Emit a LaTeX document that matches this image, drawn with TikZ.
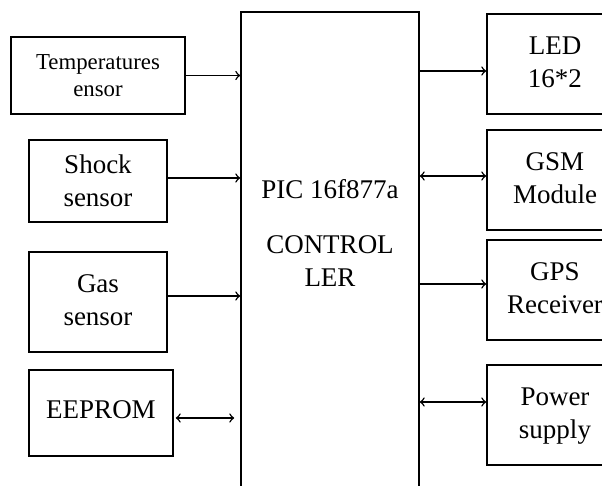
\documentclass[tikz,border=0pt]{standalone}
\usepackage{fontspec}
\setmainfont{Liberation Serif}

% two centred lines, lifted a little above the box centre
\newcommand{\liftlines}[3]{\raisebox{#1}{\begin{tabular}{@{}c@{}}#2\\#3\end{tabular}}}

\begin{document}
\begin{tikzpicture}[
        x=0.5pt, y=-0.5pt,
        >=to,
        line width=0.75pt,
        every node/.style={font=\fontsize{13.5}{16.5}\selectfont},
        blockbox/.style={
            draw,
            align=center,
            inner sep=0pt
        },
        sensorbox/.style={blockbox, minimum width=69pt},
        outbox/.style={blockbox, minimum width=68pt, minimum height=50pt}
    ]
        \useasboundingbox (0,0) rectangle (602,486);

        % inputs
        \node[blockbox, minimum width=87pt, minimum height=38.5pt,
              font=\fontsize{11.4}{13.5}\selectfont] (temp) at (98,75.5) {Temperatures\\ensor};
        \node[sensorbox, minimum height=41pt] (shock) at (98,181) {Shock\\sensor};
        \node[sensorbox, minimum height=50pt] (gas) at (98,302) {\liftlines{3pt}{Gas}{sensor}};
        \node[blockbox, minimum width=72pt, minimum height=43pt] (eeprom) at (101,413) {\raisebox{3pt}{EEPROM}};

        % controller
        \node[blockbox, minimum width=89pt, minimum height=244pt] (ctrl) at (330,256) {};
        \node[align=center] (ctrltext) at (330,233) {PIC 16f877a\\[11pt]CONTROL\\LER};

        % outputs
        \node[outbox] (led) at (555,64) {\liftlines{2.5pt}{LED}{16*2}};
        \node[outbox] (gsm) at (555,180) {\liftlines{2.5pt}{GSM}{Module}};
        \node[outbox] (gps) at (555,290) {\liftlines{3pt}{GPS}{Receiver}};
        \node[outbox] (power) at (555,415) {\liftlines{3pt}{Power}{supply}};

        \draw[->] (temp.east) -- (temp.east -| ctrl.west);
        \draw[->] ([yshift=1.5pt]shock.east) -- ([yshift=1.5pt]shock.east -| ctrl.west);
        \draw[->] ([yshift=3pt]gas.east) -- ([yshift=3pt]gas.east -| ctrl.west);
        \draw[<->] ([xshift=1pt,yshift=-2.5pt]eeprom.east) -- ([xshift=-3pt,yshift=-2.5pt]eeprom.east -| ctrl.west);

        \draw[->] ([yshift=-3.5pt]led.west -| ctrl.east) -- ([yshift=-3.5pt]led.west);
        \draw[<->] ([yshift=2pt]gsm.west -| ctrl.east) -- ([yshift=2pt]gsm.west);
        \draw[->] ([yshift=3pt]gps.west -| ctrl.east) -- ([yshift=3pt]gps.west);
        \draw[<->] ([yshift=6.5pt]power.west -| ctrl.east) -- ([yshift=6.5pt]power.west);
    \end{tikzpicture}
\end{document}
